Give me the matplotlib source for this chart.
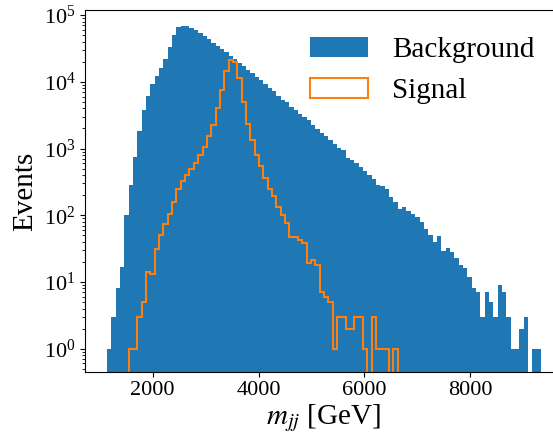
import numpy as np
import matplotlib
matplotlib.use("Agg")
import matplotlib.pyplot as plt

plt.rcParams['font.family'] = ['serif']
plt.rcParams['font.serif'] = ['Liberation Serif', 'DejaVu Serif']
plt.rcParams['mathtext.fontset'] = 'stix'

# Binning (100 bins spanning the data range)
bin_lo, bin_hi, n_bins = 1137.0, 9337.0, 100

background_counts = [
    1, 3, 8, 17, 101, 284, 748, 1837, 3793, 6150,
    9300, 12270, 16200, 22000, 33400, 50500, 66500, 68900, 68900, 64300,
    60000, 54100, 48800, 44000, 38300, 34500, 31100, 28000, 24400, 22000,
    19200, 17300, 15100, 13600, 11800, 10700, 9300, 8100, 7300, 6150,
    5350, 5000, 4200, 3790, 3300, 2980, 2690, 2260, 1970, 1710,
    1545, 1345, 1170, 1020, 953, 723, 675, 608, 530, 461,
    402, 350, 284, 275, 248, 188, 158, 124, 133, 116,
    104, 94, 79, 62, 51, 40, 49, 29, 32, 28,
    23, 18, 16, 12, 8, 7, 3, 7, 5, 3,
    9, 7, 3, 1, 1, 2, 3, 0, 1, 1,
]

signal_counts = [
    0, 0, 0, 0, 0, 1, 1, 3, 5, 14,
    13, 31, 51, 75, 106, 157, 245, 330, 406, 500,
    615, 800, 1058, 1560, 2280, 4060, 7560, 14600, 21300, 19700,
    11300, 5050, 2360, 1330, 794, 548, 366, 250, 195, 135,
    102, 77, 47, 47, 43, 38, 19, 21, 18, 7,
    6, 5, 1, 3, 3, 2, 2, 3, 3, 1,
    0, 3, 1, 1, 1, 0, 1, 0, 0, 0,
    0, 0, 0, 0, 0, 0, 0, 0, 0, 0,
    0, 0, 0, 0, 0, 0, 0, 0, 0, 0,
    0, 0, 0, 0, 0, 0, 0, 0, 0, 0,
]

series_labels = ["Background", "Signal"]
x_label = r"$m_{jj}$ [GeV]"
y_label = "Events"

edges = np.linspace(bin_lo, bin_hi, n_bins + 1)
centers = 0.5 * (edges[:-1] + edges[1:])

fig = plt.figure(figsize=(5.53, 4.32), dpi=100)
ax = fig.add_axes([0.1543, 0.1396, 0.8633, 0.8366])
ax.set_yscale('log')

ax.hist(centers, bins=edges, weights=background_counts, histtype='stepfilled',
        color='#1f77b4', label=series_labels[0])
ax.hist(centers, bins=edges, weights=signal_counts, histtype='step',
        color='#ff7f0e', linewidth=1.5, label=series_labels[1])

ax.set_xlim(727, 9747)
ax.set_ylim(0.452, 1.18e5)
ax.set_xticks([2000, 4000, 6000, 8000])
ax.tick_params(axis='both', which='major', labelsize=16)

ax.set_xlabel(x_label, fontsize=21, labelpad=1.0)
ax.set_ylabel(y_label, fontsize=21)

ax.legend(loc='upper right', frameon=False, fontsize=21,
          bbox_to_anchor=(0.995, 1.0))

fig.savefig("out.png", dpi=100)
